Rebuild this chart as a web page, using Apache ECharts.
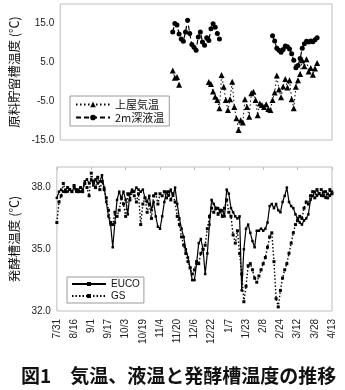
<!DOCTYPE html>
<html>
<head>
<meta charset="utf-8">
<script src="https://cdn.jsdelivr.net/npm/echarts@6/dist/echarts.min.js"></script>
<style>
  html, body { margin: 0; padding: 0; background: #fff; }
  #chart { width: 345px; height: 390px; }
</style>
</head>
<body>
<div id="chart"></div>
<script>
// Date tick labels, one every 16 days starting 7/31 (day 0)
const dateLabels = ['7/31','8/16','9/1','9/17','10/3','10/19','11/4','11/20','12/6','12/22','1/7','1/23','2/8','2/24','3/12','3/28','4/13'];
const labelStep = 16;
const lastDay = 256;
const dayStep = 2;   // readings every 2 days

// 上屋気温 (°C)
const airStart1 = 106;
const air1 = [2.9, 1.0, 1.2, -0.8];
const airStart2 = 140;
const air2 = [-0.1, -0.6, -2.5, -3.9, -4.7, -6.8, 1.7, -1.3, -4.7, -7.3,
              -4.5, 0.0, -6.5, -9.4, -12.4, -9.9, -10.5, -4.5, -6.5, -9.0,
              -3.0, -2.6, -4.7, -8.6, -5.6, -6.0, -6.5, -5.8, -7.0, -7.3,
              -4.7, -2.8, 1.6, -2.0, -4.0, -1.2, 0.7, -1.5, 0.4, -4.5,
              -6.8, -1.3, 0.4, 2.0, 5.5, 4.0, 5.8, 2.6, 3.5, 1.8,
              3.4, 4.8];

// 2m深液温 (°C)
const liquidStart1 = 106;
const liquid1 = [12.8, 15.0, 14.6, 12.3, 11.0, 10.4, 12.8, 15.8, 12.4, 9.6,
                 8.9, 8.1, 11.5, 12.8, 10.2, 9.4, 11.3, 10.6, 13.6, 14.9,
                 14.0, 12.4, 11.0];
const liquidStart2 = 200;
const liquid2 = [11.8, 10.5, 8.6, 8.1, 7.6, 8.3, 9.2, 9.0, 8.4, 7.2,
                 5.5, 3.6, 4.2, 6.0, 8.6, 9.8, 10.4, 10.2, 10.5, 10.3,
                 10.8, 11.3];

// 発酵槽温度 (°C), from day 0
const fermStart = 0;
const euco = [37.5, 37.8, 37.9, 37.8, 37.9, 37.8, 37.9, 37.8, 38.0, 37.8,
              37.9, 37.8, 37.9, 38.3, 38.4, 38.2, 38.4, 38.1, 38.4, 38.2,
              38.3, 38.6, 38.0, 37.3, 36.6, 36.2, 35.1, 36.3, 37.4, 37.8,
              37.5, 37.8, 37.4, 36.7, 37.7, 37.9, 37.8, 38.0, 37.9, 37.8,
              37.9, 37.5, 37.3, 37.6, 36.9, 37.3, 36.6, 36.1, 36.0, 36.6,
              37.3, 37.8, 37.6, 37.9, 37.6, 38.0, 37.2, 36.5, 36.0, 35.6,
              35.0, 34.6, 34.1, 33.5, 33.5, 34.3, 35.3, 35.5, 35.0, 33.8,
              34.8, 36.2, 37.4, 37.2, 37.0, 37.0, 36.8, 36.9, 36.6, 37.9,
              37.7, 37.0, 36.8, 36.6, 36.5, 36.6, 33.0, 35.0, 36.0, 36.2,
              35.8, 35.4, 35.1, 35.9, 35.9, 36.0, 35.9, 36.0, 36.3, 37.1,
              37.2, 37.0, 37.2, 36.9, 36.8, 37.3, 37.6, 38.0, 37.3, 37.1,
              37.0, 36.7, 36.5, 36.3, 36.2, 36.4, 36.5, 36.7, 37.4, 37.6,
              37.8, 37.6, 37.7, 37.6, 37.8, 37.5, 37.7, 37.6, 37.8];
const gs = [36.3, 37.3, 37.6, 38.2, 37.8, 38.0, 37.9, 37.8, 38.1, 37.9,
            37.8, 38.0, 37.8, 38.2, 38.0, 37.6, 38.7, 38.3, 38.0, 38.5,
            37.9, 38.3, 37.9, 37.5, 36.9, 36.3, 36.2, 36.8, 36.6, 36.9,
            37.5, 37.2, 36.6, 37.7, 37.4, 37.8, 37.6, 37.3, 37.7, 36.2,
            37.2, 37.5, 36.8, 37.2, 36.5, 37.6, 37.7, 37.2, 37.7, 37.6,
            37.8, 37.5, 37.8, 37.4, 37.7, 37.3, 36.6, 36.2, 35.6, 35.2,
            34.8, 34.4, 34.1, 33.8, 34.0, 34.4, 34.3, 34.8, 35.0, 35.2,
            36.0, 36.6, 37.0, 36.8, 37.0, 36.7, 36.9, 36.6, 37.0, 37.4,
            36.8, 36.6, 35.7, 35.3, 35.9, 34.8, 33.8, 32.45, 33.2, 34.2,
            34.3, 34.0, 33.6, 33.4, 33.7, 34.0, 34.3, 34.6, 35.1, 35.6,
            35.8, 34.4, 32.6, 32.2, 33.0, 33.6, 34.0, 34.3, 34.8, 35.3,
            35.8, 36.2, 36.4, 36.6, 36.5, 37.0, 37.3, 37.2, 37.6, 37.8,
            37.5, 37.9, 37.7, 37.9, 37.6, 37.8, 37.5, 37.9, 37.7];

function toPoints(start, values) {
  return values.map((v, i) => [start + i * dayStep, v]);
}
// a missing reading between two runs breaks the line
function joinRuns(a, b) {
  const gapDay = (a[a.length - 1][0] + b[0][0]) / 2;
  return a.concat([[gapDay, '-']], b);
}

const airData = joinRuns(toPoints(airStart1, air1), toPoints(airStart2, air2));
const liquidData = joinRuns(toPoints(liquidStart1, liquid1), toPoints(liquidStart2, liquid2));
const eucoData = toPoints(fermStart, euco);
const gsData = toPoints(fermStart, gs);

const numFont = 'Liberation Sans, Arial, sans-serif';
const jpFont = 'Noto Sans CJK JP, sans-serif';
const frame = '#bdbdbd';

const chart = echarts.init(document.getElementById('chart'), null, { renderer: 'canvas' });
chart.setOption({
  animation: false,
  backgroundColor: '#fff',
  title: {
    text: '図1　気温、液温と発酵槽温度の推移',
    left: 16, top: 361,
    textStyle: { fontFamily: jpFont, fontSize: 19, fontWeight: 'bold', color: '#111' }
  },
  grid: [
    { left: 53, right: 13, top: 4, height: 136, show: true, borderColor: frame, borderWidth: 1, backgroundColor: '#fff' },
    { left: 53, right: 13, top: 167, height: 144, show: true, borderColor: frame, borderWidth: 1, backgroundColor: '#fff' }
  ],
  legend: [
    {
      data: ['上屋気温', '2m深液温'],
      orient: 'vertical', left: 70, top: 96,
      padding: [3, 5, 3, 5], itemGap: 2, itemWidth: 34, itemHeight: 7,
      borderColor: '#9a9a9a', borderWidth: 1, backgroundColor: '#fff',
      textStyle: { fontFamily: jpFont, fontSize: 11, color: '#111' }
    },
    {
      data: ['EUCO', 'GS'],
      orient: 'vertical', left: 67, top: 277,
      padding: [2, 4, 2, 4], itemGap: 2, itemWidth: 34, itemHeight: 5,
      borderColor: '#9a9a9a', borderWidth: 1, backgroundColor: '#fff',
      textStyle: { fontFamily: numFont, fontSize: 10, color: '#111' }
    }
  ],
  xAxis: [
    {
      type: 'value', gridIndex: 0, min: 0, max: lastDay, interval: labelStep,
      axisLine: { show: false }, axisTick: { show: false },
      axisLabel: { show: false }, splitLine: { show: false }
    },
    {
      type: 'value', gridIndex: 1, min: 0, max: lastDay, interval: labelStep,
      axisLine: { show: false }, axisTick: { show: false }, splitLine: { show: false },
      axisLabel: {
        rotate: 90, margin: 8, fontFamily: numFont, fontSize: 10, color: '#222',
        formatter: v => dateLabels[Math.round(v / labelStep)] || ''
      }
    },
    {
      type: 'value', gridIndex: 1, min: 0, max: lastDay, interval: labelStep * 2,
      axisLine: { show: false }, axisLabel: { show: false }, splitLine: { show: false },
      axisTick: { show: true, inside: true, length: 3, lineStyle: { color: frame } }
    }
  ],
  yAxis: [
    {
      type: 'value', gridIndex: 0, min: -15, max: 20, interval: 10,
      axisLine: { show: false }, axisTick: { show: false }, splitLine: { show: false },
      axisLabel: { showMaxLabel: false, margin: 6, fontFamily: numFont, fontSize: 10, color: '#222',
                   formatter: v => v.toFixed(1) },
      name: '原料貯留槽温度 (℃)', nameLocation: 'middle', nameGap: 35,
      nameTextStyle: { fontFamily: jpFont, fontSize: 12.5, color: '#111' }
    },
    {
      type: 'value', gridIndex: 1, min: 32, max: 39, interval: 3,
      axisLine: { show: false }, axisTick: { show: false }, splitLine: { show: false },
      axisLabel: { showMaxLabel: false, margin: 6, fontFamily: numFont, fontSize: 10, color: '#222',
                   formatter: v => v.toFixed(1) },
      name: '発酵槽温度 (℃)', nameLocation: 'middle', nameGap: 35,
      nameTextStyle: { fontFamily: jpFont, fontSize: 12.5, color: '#111' }
    }
  ],
  series: [
    {
      name: '上屋気温', type: 'line', xAxisIndex: 0, yAxisIndex: 0, data: airData,
      symbol: 'triangle', symbolSize: 6, showAllSymbol: true,
      lineStyle: { color: '#000', width: 1, type: [1.5, 2.5] },
      itemStyle: { color: '#000' }
    },
    {
      name: '2m深液温', type: 'line', xAxisIndex: 0, yAxisIndex: 0, data: liquidData,
      symbol: 'circle', symbolSize: 5, showAllSymbol: true,
      lineStyle: { color: '#000', width: 1.2, type: [5, 3] },
      itemStyle: { color: '#000' }
    },
    {
      name: 'EUCO', type: 'line', xAxisIndex: 1, yAxisIndex: 1, data: eucoData,
      symbol: 'rect', symbolSize: 2.5, showAllSymbol: true,
      lineStyle: { color: '#000', width: 1.2 },
      itemStyle: { color: '#000' }
    },
    {
      name: 'GS', type: 'line', xAxisIndex: 1, yAxisIndex: 1, data: gsData,
      symbol: 'rect', symbolSize: 3, showAllSymbol: true,
      lineStyle: { color: '#000', width: 1.4, type: [1.5, 2] },
      itemStyle: { color: '#000' }
    }
  ]
});
</script>
</body>
</html>
